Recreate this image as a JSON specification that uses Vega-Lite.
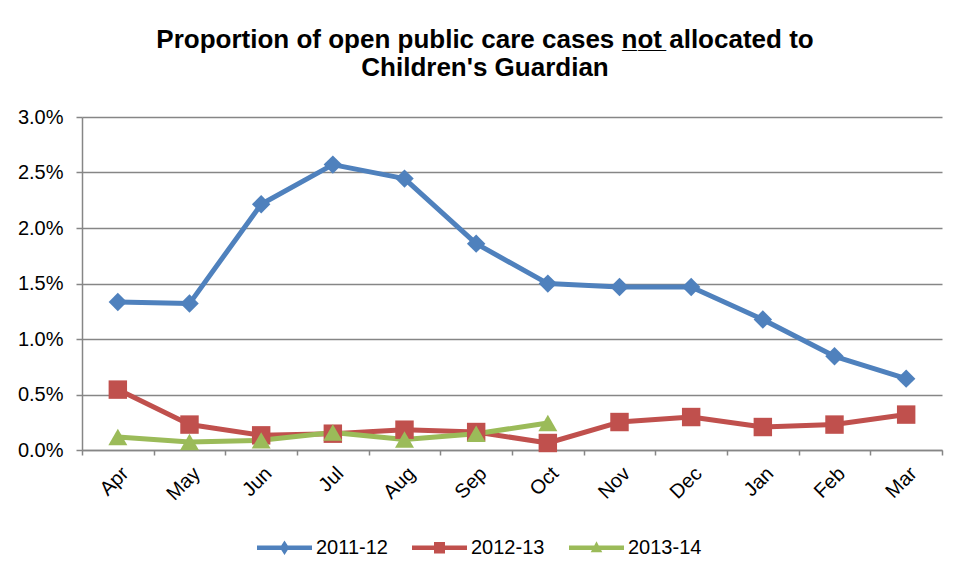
{
  "$schema": "https://vega.github.io/schema/vega-lite/v6.json",
  "width": 860,
  "height": 333,
  "padding": {"left": 12, "top": 27, "right": 28, "bottom": 5},
  "background": "white",
  "title": {
    "text": ["Proportion of open public care cases n̲o̲t̲ allocated to", "Children's Guardian"],
    "font": "Liberation Sans",
    "fontSize": 26,
    "fontWeight": "bold",
    "color": "#000000",
    "lineHeight": 28,
    "anchor": "middle",
    "dx": -27,
    "offset": 26
  },
  "data": {
    "values": [
      {"month": "Apr", "series": "2011-12", "value": 0.01333},
      {"month": "May", "series": "2011-12", "value": 0.01319},
      {"month": "Jun", "series": "2011-12", "value": 0.02214},
      {"month": "Jul", "series": "2011-12", "value": 0.02571},
      {"month": "Aug", "series": "2011-12", "value": 0.02445},
      {"month": "Sep", "series": "2011-12", "value": 0.01859},
      {"month": "Oct", "series": "2011-12", "value": 0.01499},
      {"month": "Nov", "series": "2011-12", "value": 0.01468},
      {"month": "Dec", "series": "2011-12", "value": 0.01468},
      {"month": "Jan", "series": "2011-12", "value": 0.01175},
      {"month": "Feb", "series": "2011-12", "value": 0.00844},
      {"month": "Mar", "series": "2011-12", "value": 0.00643},
      {"month": "Apr", "series": "2012-13", "value": 0.00544},
      {"month": "May", "series": "2012-13", "value": 0.00229},
      {"month": "Jun", "series": "2012-13", "value": 0.00132},
      {"month": "Jul", "series": "2012-13", "value": 0.00147},
      {"month": "Aug", "series": "2012-13", "value": 0.00183},
      {"month": "Sep", "series": "2012-13", "value": 0.00162},
      {"month": "Oct", "series": "2012-13", "value": 0.00063},
      {"month": "Nov", "series": "2012-13", "value": 0.00252},
      {"month": "Dec", "series": "2012-13", "value": 0.00297},
      {"month": "Jan", "series": "2012-13", "value": 0.00207},
      {"month": "Feb", "series": "2012-13", "value": 0.00229},
      {"month": "Mar", "series": "2012-13", "value": 0.00319},
      {"month": "Apr", "series": "2013-14", "value": 0.00117},
      {"month": "May", "series": "2013-14", "value": 0.00072},
      {"month": "Jun", "series": "2013-14", "value": 0.00087},
      {"month": "Jul", "series": "2013-14", "value": 0.00157},
      {"month": "Aug", "series": "2013-14", "value": 0.00094},
      {"month": "Sep", "series": "2013-14", "value": 0.00147},
      {"month": "Oct", "series": "2013-14", "value": 0.00243}
    ]
  },
  "encoding": {
    "x": {
      "field": "month",
      "type": "ordinal",
      "sort": ["Apr", "May", "Jun", "Jul", "Aug", "Sep", "Oct", "Nov", "Dec", "Jan", "Feb", "Mar"],
      "bandPosition": 0.5,
      "scale": {"type": "band", "paddingInner": 0, "paddingOuter": 0},
      "axis": {
        "title": null,
        "labelAngle": -45,
        "labelFont": "Liberation Sans",
        "labelFontSize": 20,
        "labelColor": "#000000",
        "labelPadding": 8,
        "tickBand": "extent",
        "tickSize": 5,
        "tickColor": "#868686",
        "tickWidth": 1.5,
        "domainColor": "#868686",
        "domainWidth": 1.5,
        "grid": false
      }
    },
    "y": {
      "field": "value",
      "type": "quantitative",
      "scale": {"domain": [0, 0.03], "nice": false},
      "axis": {
        "title": null,
        "values": [0, 0.005, 0.01, 0.015, 0.02, 0.025, 0.03],
        "format": ".1%",
        "labelFont": "Liberation Sans",
        "labelFontSize": 20,
        "labelColor": "#000000",
        "labelPadding": 13,
        "tickSize": 6,
        "tickColor": "#868686",
        "tickWidth": 1.5,
        "domainColor": "#868686",
        "domainWidth": 1.5,
        "grid": true,
        "gridColor": "#868686",
        "gridWidth": 1.5,
        "minExtent": 70,
        "maxExtent": 70
      }
    },
    "color": {
      "field": "series",
      "type": "nominal",
      "scale": {"domain": ["2011-12", "2012-13", "2013-14"], "range": ["#4F81BD", "#C0504D", "#9BBB59"]},
      "legend": {
        "title": null,
        "orient": "none",
        "direction": "horizontal",
        "legendX": 175,
        "legendY": 403,
        "labelFont": "Liberation Sans",
        "labelFontSize": 20,
        "labelColor": "#000000",
        "labelOffset": 4,
        "columnPadding": 24,
        "symbolSize": 3025,
        "symbolStrokeWidth": 0,
        "encode": {
          "symbols": {
            "update": {
              "shape": {"signal": "datum.value === '2011-12' ? 'M-1,-0.08H1V0.08H-1Z M0,-0.26L0.17,0L0,0.26L-0.17,0Z' : datum.value === '2012-13' ? 'M-1,-0.08H1V0.08H-1Z M-0.2,-0.21H0.2V0.21H-0.2Z' : 'M-1,-0.08H1V0.08H-1Z M0,-0.24L0.21,0.16H-0.21Z'"},
              "fill": {"scale": "color", "field": "value"},
              "fillOpacity": {"value": 1},
              "opacity": {"value": 1},
              "strokeWidth": {"value": 0}
            }
          }
        }
      }
    }
  },
  "layer": [
    {
      "mark": {"type": "line", "strokeWidth": 5, "strokeJoin": "round"},
      "encoding": {"detail": {"field": "series"}}
    },
    {
      "transform": [{"filter": "datum.series === '2011-12'"}],
      "mark": {"type": "point", "shape": "diamond", "filled": true, "opacity": 1, "size": 340}
    },
    {
      "transform": [{"filter": "datum.series === '2012-13'"}],
      "mark": {"type": "point", "shape": "square", "filled": true, "opacity": 1, "size": 340}
    },
    {
      "transform": [{"filter": "datum.series === '2013-14'"}],
      "mark": {"type": "point", "shape": "triangle-up", "filled": true, "opacity": 1, "size": 360}
    }
  ],
  "config": {
    "view": {"stroke": null}
  }
}
